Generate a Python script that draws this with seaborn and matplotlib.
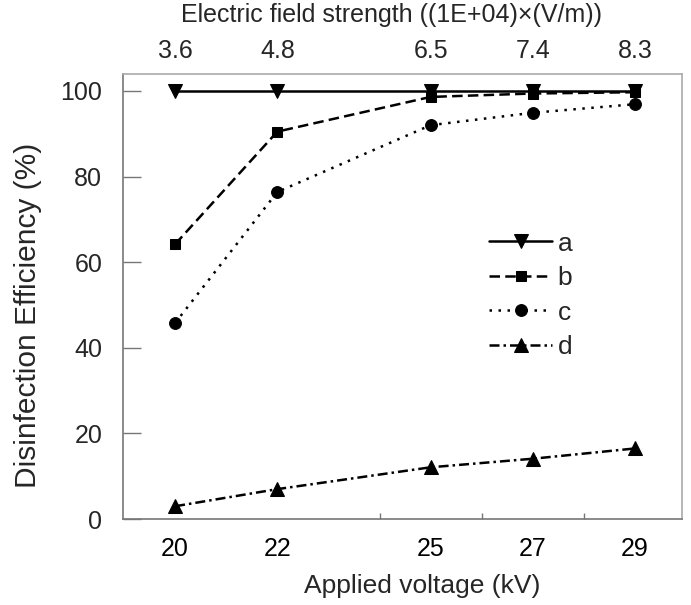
import matplotlib
matplotlib.use("Agg")
import matplotlib.pyplot as plt
import pandas as pd
import seaborn as sns

# data
voltage = [20, 22, 25, 27, 29]
field_labels = ["3.6", "4.8", "6.5", "7.4", "8.3"]
eff_a = [99.9, 99.9, 99.9, 99.9, 99.9]
eff_b = [64.2, 90.5, 98.6, 99.4, 99.7]
eff_c = [45.8, 76.4, 92.0, 94.9, 96.9]
eff_d = [3.0, 7.0, 12.1, 14.1, 16.5]
series = ["a", "b", "c", "d"]

rows = []
for name, vals in zip(series, [eff_a, eff_b, eff_c, eff_d]):
    for v, e in zip(voltage, vals):
        rows.append({"voltage": v, "efficiency": e, "sample": name})
df = pd.DataFrame(rows)

sns.set_theme(style="white")
plt.rcParams["font.family"] = ["Liberation Sans", "DejaVu Sans"]

fig = plt.figure(figsize=(6.91, 6.05), dpi=100)
ax = fig.add_axes([0.178, 0.142, 0.809, 0.736])

markers = {"a": "v", "b": "s", "c": "o", "d": "^"}
dashes = {"a": "", "b": (4.2, 2.1), "c": (1.0, 2.6), "d": (4.0, 1.6, 1.0, 1.6)}
sizes = {"a": 10.5, "b": 7.5, "c": 8.5, "d": 10.5}

sns.lineplot(
    data=df,
    x="voltage",
    y="efficiency",
    hue="sample",
    style="sample",
    palette=["black"] * 4,
    markers=markers,
    dashes=dashes,
    markeredgecolor="black",
    linewidth=1.8,
    ax=ax,
)
for line, name in zip(ax.lines[:4], series):
    line.set_markersize(sizes[name])

ax.set_xlim(18.98, 29.92)
ax.set_ylim(0, 104)
ax.set_yticks([0, 20, 40, 60, 80, 100])
ax.set_xticks(voltage)
ax.set_xticklabels([str(v) for v in voltage])
ax.set_xticks([20, 22, 24, 26, 28], minor=True)
ax.tick_params(axis="x", which="major", length=0, pad=13, labelsize=18, colors="black")
ax.tick_params(axis="x", which="minor", direction="in", length=4, width=1, color="#777777", bottom=True)
ax.tick_params(axis="y", direction="in", length=13, width=1, color="#777777", pad=15, labelsize=18, left=True)
ax.set_xlabel("Applied voltage (kV)", fontsize=19, labelpad=9, x=0.535)
ax.set_ylabel("Disinfection Efficiency (%)", fontsize=21.5, labelpad=13, y=0.458)

for side in ["left", "bottom"]:
    ax.spines[side].set_color("#777777")
    ax.spines[side].set_linewidth(1.2)
for side in ["top", "right"]:
    ax.spines[side].set_color("#aaaaaa")
    ax.spines[side].set_linewidth(1.2)

ax2 = ax.twiny()
ax2.set_xlim(ax.get_xlim())
ax2.set_xticks(voltage)
ax2.set_xticklabels(field_labels)
ax2.tick_params(axis="x", length=0, pad=8, labelsize=18)
ax2.set_xlabel("Electric field strength ((1E+04)\u00d7(V/m))", fontsize=18, labelpad=12, x=0.48)
for side in ax2.spines:
    ax2.spines[side].set_visible(False)

handles, labels = ax.get_legend_handles_labels()
for h, name in zip(handles, labels):
    h.set_markersize(sizes[name])
ax.legend(
    handles,
    labels,
    frameon=False,
    fontsize=19,
    handlelength=2.4,
    handletextpad=0.2,
    labelspacing=0.4,
    loc="upper left",
    bbox_to_anchor=(0.612, 0.699),
)

fig.savefig("out.png", dpi=100)
